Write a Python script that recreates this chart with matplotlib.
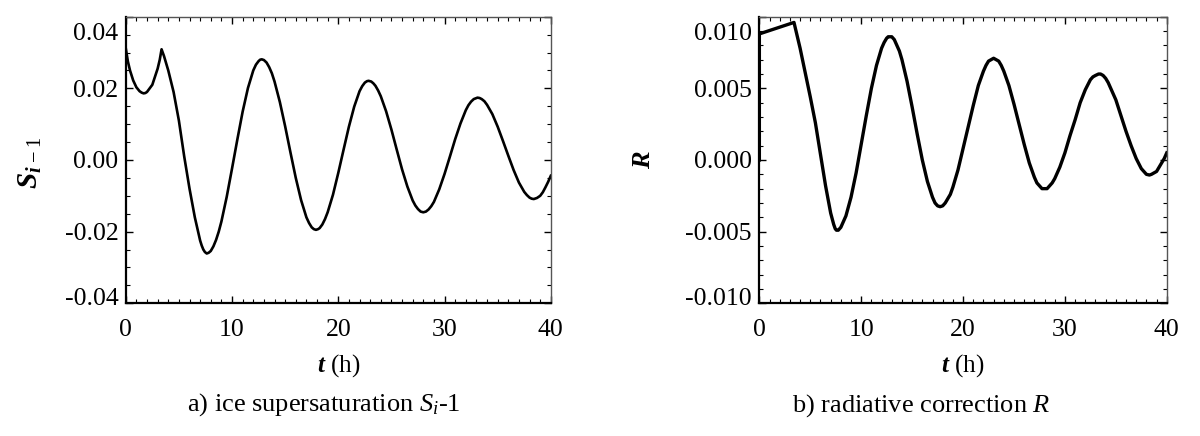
import matplotlib
matplotlib.use("Agg")
import matplotlib.pyplot as plt
from matplotlib.ticker import MultipleLocator, FuncFormatter

# ---------------- data ----------------
t_si = [0, 0.2, 0.4, 0.7, 1.0, 1.3, 1.5, 1.68, 1.85, 2.0, 2.5, 3.0, 3.2, 3.37, 3.6,
        4.0, 4.5, 5.0, 5.5, 6.0, 6.5, 7.0, 7.15, 7.3, 7.45, 7.62, 7.8, 8.0, 8.25,
        8.5, 8.75, 9.0, 9.5, 10.0, 10.5, 11.0, 11.5, 12.0, 12.25, 12.5, 12.65, 12.8,
        13.0, 13.25, 13.5, 13.75, 14.0, 14.5, 15.0, 15.5, 16.0, 16.5, 17.0, 17.25,
        17.5, 17.7, 17.9, 18.1, 18.25, 18.5, 18.75, 19.0, 19.5, 20.0, 20.5, 21.0,
        21.5, 22.0, 22.25, 22.5, 22.7, 22.85, 23.1, 23.3, 23.5, 23.75, 24.0, 24.5,
        25.0, 25.5, 26.0, 26.5, 27.0, 27.25, 27.5, 27.75, 28.0, 28.25, 28.5, 28.75,
        29.0, 29.5, 30.0, 30.5, 31.0, 31.5, 32.0, 32.25, 32.5, 32.75, 33.1, 33.3,
        33.5, 33.75, 34.0, 34.5, 35.0, 35.5, 36.0, 36.5, 37.0, 37.5, 37.75, 38.0,
        38.2, 38.4, 38.7, 39.0, 39.25, 39.5, 39.75, 40.0]
si_minus_1 = [0.0312, 0.0275, 0.0250, 0.0222, 0.0203, 0.0192, 0.0188, 0.0186, 0.0187,
              0.0190, 0.0210, 0.0255, 0.0280, 0.0309, 0.0290, 0.0250, 0.0190, 0.0110,
              0.0010, -0.0080, -0.0160, -0.0225, -0.0239, -0.0250, -0.0257, -0.0261,
              -0.0259, -0.0254, -0.0241, -0.0223, -0.0200, -0.0172, -0.0103, -0.0024,
              0.0057, 0.0135, 0.0201, 0.0250, 0.0266, 0.0276, 0.0280, 0.0281, 0.0279,
              0.0272, 0.0259, 0.0242, 0.0219, 0.0162, 0.0094, 0.0021, -0.0050, -0.0112,
              -0.0160, -0.0176, -0.0188, -0.0193, -0.0195, -0.0193, -0.0190, -0.0180,
              -0.0165, -0.0146, -0.0097, -0.0036, 0.0029, 0.0093, 0.0149, 0.0192,
              0.0206, 0.0216, 0.0220, 0.0221, 0.0219, 0.0214, 0.0207, 0.0194, 0.0178,
              0.0136, 0.0085, 0.0029, -0.0026, -0.0074, -0.0113, -0.0127, -0.0137,
              -0.0144, -0.0146, -0.0144, -0.0138, -0.0129, -0.0117, -0.0082, -0.0039,
              0.0009, 0.0058, 0.0102, 0.0139, 0.0153, 0.0163, 0.0170, 0.0174, 0.0173,
              0.0170, 0.0164, 0.0154, 0.0128, 0.0093, 0.0053, 0.0012, -0.0028, -0.0063,
              -0.0089, -0.0098, -0.0105, -0.0108, -0.0109, -0.0106, -0.0100, -0.0090,
              -0.0076, -0.0061, -0.0044]

t_r = [0, 0, 3.4, 4.0, 4.5, 5.0, 5.5, 6.0, 6.5, 7.0, 7.3, 7.45, 7.57, 7.75, 8.0, 8.25,
       8.5, 9.0, 9.5, 10.0, 10.5, 11.0, 11.5, 12.0, 12.25, 12.5, 12.65, 12.8, 13.0,
       13.25, 13.5, 13.75, 14.0, 14.5, 15.0, 15.5, 16.0, 16.5, 17.0, 17.25, 17.5,
       17.75, 18.0, 18.25, 18.5, 18.75, 19.0, 19.5, 20.0, 20.5, 21.0, 21.5, 22.0,
       22.25, 22.5, 22.75, 23.0, 23.25, 23.5, 23.75, 24.0, 24.5, 25.0, 25.5, 26.0,
       26.5, 27.0, 27.25, 27.5, 27.75, 27.97, 28.25, 28.5, 28.75, 29.0, 29.5, 30.0,
       30.5, 31.0, 31.5, 32.0, 32.5, 32.75, 33.0, 33.3, 33.5, 33.75, 34.0, 34.25,
       34.5, 35.0, 35.5, 36.0, 36.5, 37.0, 37.5, 37.75, 38.0, 38.3, 38.5, 38.75,
       39.0, 39.25, 39.5, 39.75, 40.0]
r_corr = [0.0, 0.0088, 0.0096, 0.0078, 0.0061, 0.0044, 0.0026, 0.0004, -0.0018,
          -0.0037, -0.0045, -0.0048, -0.0049, -0.0049, -0.0047, -0.0043, -0.0039,
          -0.0026, -0.0009, 0.0011, 0.0031, 0.0050, 0.0066, 0.0078, 0.0082, 0.0085,
          0.0086, 0.0086, 0.0086, 0.0084, 0.0080, 0.0076, 0.0070, 0.0055, 0.0037,
          0.0018, 0.0000, -0.0015, -0.0026, -0.0030, -0.0032, -0.00326, -0.0032,
          -0.0030, -0.0027, -0.0024, -0.0019, -0.0007, 0.0008, 0.0023, 0.0038,
          0.0052, 0.0062, 0.0066, 0.0069, 0.0070, 0.0071, 0.0070, 0.0069, 0.0066,
          0.0062, 0.0052, 0.0039, 0.0025, 0.0011, -0.0002, -0.0012, -0.0016,
          -0.0018, -0.0020, -0.0020, -0.0020, -0.0018, -0.0016, -0.0013, -0.0005,
          0.0005, 0.0017, 0.0028, 0.0040, 0.0049, 0.0056, 0.0058, 0.0059, 0.0060,
          0.0060, 0.0059, 0.0057, 0.0054, 0.0050, 0.0042, 0.0031, 0.0020, 0.0010,
          0.0001, -0.0006, -0.0008, -0.0010, -0.00105, -0.0010, -0.0009, -0.0008,
          -0.0005, -0.0002, 0.0001, 0.0005]

x_ticks = [0, 10, 20, 30, 40]
ylim_a = 0.04
ylim_b = 0.01

# ---------------- style ----------------
plt.rcParams['font.family'] = ['Liberation Serif', 'DejaVu Serif']
plt.rcParams['mathtext.fontset'] = 'custom'
plt.rcParams['mathtext.rm'] = 'Liberation Serif'
plt.rcParams['mathtext.it'] = 'Liberation Serif:italic'
plt.rcParams['mathtext.bf'] = 'Liberation Serif:bold'
plt.rcParams['mathtext.bfit'] = 'Liberation Serif:italic:bold'
plt.rcParams['axes.unicode_minus'] = False

TICK_FS = 18.5
LAB_FS = 18
CAP_FS = 19

fig = plt.figure(figsize=(12, 4.36), dpi=100)
ax_a = fig.add_axes([0.1048, 0.3044, 0.3542, 0.6573])
ax_b = fig.add_axes([0.6328, 0.3044, 0.3395, 0.6573])


def style_axes(ax, lim, major, minor, fmt):
    ax.set_xlim(0, 40)
    ax.set_ylim(-lim, lim)
    ax.set_xticks(x_ticks)
    ax.xaxis.set_minor_locator(MultipleLocator(1))
    ax.yaxis.set_major_locator(MultipleLocator(major))
    ax.yaxis.set_minor_locator(MultipleLocator(minor))
    ax.tick_params(which='both', direction='in', top=True, right=True,
                   labelsize=TICK_FS, colors='black')
    ax.tick_params(which='major', length=5, width=1.0)
    ax.tick_params(which='minor', length=3, width=0.8)
    ax.tick_params(axis='x', pad=11)
    ax.tick_params(axis='y', pad=5.3)
    for s in ('left', 'bottom'):
        ax.spines[s].set_linewidth(1.6)
        ax.spines[s].set_color('black')
    for s in ('top', 'right'):
        ax.spines[s].set_linewidth(1.0)
        ax.spines[s].set_color('#555555')
    ax.yaxis.set_major_formatter(FuncFormatter(
        lambda v, p: '' if abs(abs(v) - lim) < lim * 1e-6 else fmt % v))
    # end labels shifted inward to stay beside the frame
    ax.annotate(fmt % lim, xy=(0, lim), xycoords=('axes fraction', 'data'),
                xytext=(-7.4, -15), textcoords='offset pixels',
                ha='right', va='center_baseline', fontsize=TICK_FS)
    ax.annotate(fmt % (-lim), xy=(0, -lim), xycoords=('axes fraction', 'data'),
                xytext=(-7.4, 7), textcoords='offset pixels',
                ha='right', va='center_baseline', fontsize=TICK_FS)
    ax.set_xlabel(r'$\mathbfit{t}$ (h)', fontsize=LAB_FS)
    ax.xaxis.set_label_coords(0.5, -0.172)


style_axes(ax_a, ylim_a, 0.02, 0.005, '%.2f')
style_axes(ax_b, ylim_b, 0.005, 0.001, '%.3f')

ax_a.plot(t_si, si_minus_1, color='black', lw=1.9, solid_joinstyle='round')
ax_b.plot(t_r, r_corr, color='black', lw=2.4, solid_joinstyle='round')

ax_a.set_ylabel(r'$\mathbfit{S}_{\mathbfit{i}\;\mathrm{-}\;1}$', fontsize=21)
ax_a.yaxis.set_label_coords(-0.192, 0.49)
ax_b.set_ylabel(r'$\mathbfit{R}$', fontsize=19)
ax_b.yaxis.set_label_coords(-0.256, 0.5)

fig.text(324 / 1200, 1 - 411 / 436, r'a) ice supersaturation $S_i$-1',
         ha='center', va='baseline', fontsize=CAP_FS)
fig.text(921 / 1200, 1 - 412 / 436, r'b) radiative correction $R$',
         ha='center', va='baseline', fontsize=CAP_FS)

fig.savefig('out.png', dpi=100)
